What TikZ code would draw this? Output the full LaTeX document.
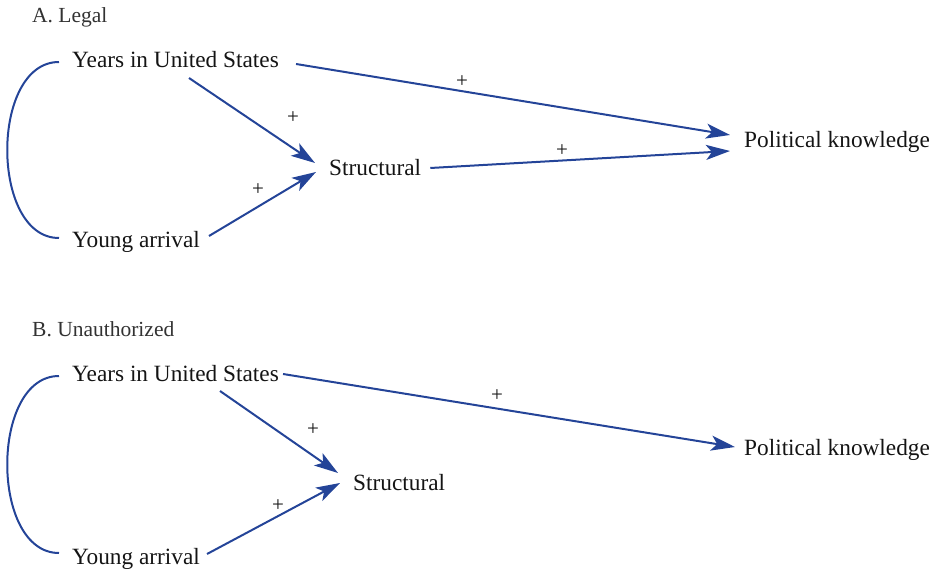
\documentclass[tikz,border=0pt]{standalone}
\usepackage{fontspec}
\setmainfont{Liberation Serif}
\usetikzlibrary{arrows.meta,calc}
\definecolor{pathblue}{RGB}{36,68,152}
\definecolor{txt}{RGB}{20,20,20}
\definecolor{ttl}{RGB}{50,50,50}
\tikzset{
  lbl/.style={anchor=base west,inner sep=0pt,text=txt,font=\fontsize{23.3}{27}\selectfont},
  ttlbl/.style={anchor=base west,inner sep=0pt,text=ttl,font=\fontsize{21.5}{25}\selectfont},
  plus/.style={inner sep=0pt,text=txt,font=\fontsize{21}{24}\selectfont},
  arr/.style={draw=pathblue,line width=2pt,-{Stealth[length=24pt,width=15pt,inset=6pt]}},
  corr/.style={draw=pathblue,line width=2pt}
}
\begin{document}
\begin{tikzpicture}[x=1pt,y=-1pt]
\useasboundingbox (0,0) rectangle (931,572);
% Panel A
\node[ttlbl] (tA) at (32,23) {A. Legal};
\node[lbl] (yA) at (72,68) {Years in United States};
\node[lbl] (gA) at (72,247) {Young arrival};
\node[lbl] (sA) at (329,176) {Structural};
\node[lbl] (pA) at (744,148) {Political knowledge};
\draw[corr] ($(yA.base west)+(-13,-6)$) .. controls (-10,62) and (-10,238) .. ($(gA.base west)+(-13,-9)$);
\draw[arr] ($(yA.base west)+(117,10)$) -- ($(sA.base west)+(-14,-13)$);
\draw[arr] ($(gA.base west)+(137,-11)$) -- ($(sA.base west)+(-13,-4)$);
\draw[arr] ($(yA.base east)+(17,-4)$) -- ($(pA.base west)+(-14,-13)$);
\draw[arr] ($(sA.base east)+(9,-8)$) -- ($(pA.base west)+(-14,3)$);
\node[plus] (p1) at (293,118) {+};
\node[plus] (p2) at (258,190) {+};
\node[plus] (p3) at (462,82) {+};
\node[plus] (p4) at (562,151) {+};
% Panel B
\node[ttlbl] (tB) at (32,336) {B. Unauthorized};
\node[lbl] (yB) at (72,381) {Years in United States};
\node[lbl] (gB) at (72,564) {Young arrival};
\node[lbl] (sB) at (353,490) {Structural};
\node[lbl] (pB) at (744,455) {Political knowledge};
\draw[corr] ($(yB.base west)+(-13,-5)$) .. controls (-10,376) and (-10,553) .. ($(gB.base west)+(-13,-11)$);
\draw[arr] ($(yB.base west)+(148,10)$) -- ($(sB.base west)+(-15,-17)$);
\draw[arr] ($(gB.base west)+(135,-10)$) -- ($(sB.base west)+(-13,-7)$);
\draw[arr] ($(yB.base east)+(4,-7)$) -- ($(pB.base west)+(-9,-8)$);
\node[plus] (p5) at (313,430) {+};
\node[plus] (p6) at (278,506) {+};
\node[plus] (p7) at (497,396) {+};
\end{tikzpicture}
\end{document}
